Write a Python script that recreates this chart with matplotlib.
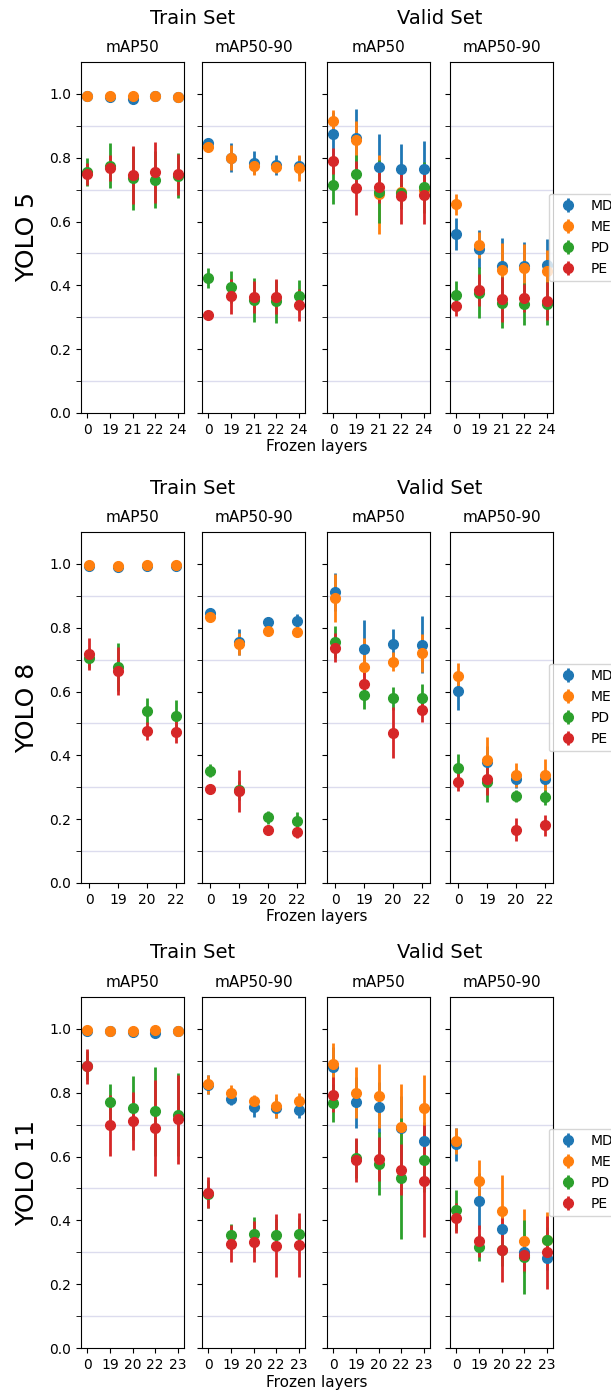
import numpy as np
import matplotlib
matplotlib.use("Agg")
import matplotlib.pyplot as plt
from matplotlib.ticker import MultipleLocator

# series order in every panel: MD, ME, PD, PE
names = ['MD', 'ME', 'PD', 'PE']
colors = ['tab:blue', 'tab:orange', 'tab:green', 'tab:red']

# ---------------- YOLO 5 ----------------
y5_layers = ['0', '19', '21', '22', '24']

y5_tr50 = [[0.993, 0.990, 0.985, 0.993, 0.990],
           [0.995, 0.993, 0.992, 0.995, 0.991],
           [0.755, 0.775, 0.735, 0.731, 0.744],
           [0.750, 0.767, 0.746, 0.754, 0.748]]
y5_tr50_err = [[0.004, 0.005, 0.006, 0.004, 0.004],
               [0.003, 0.004, 0.004, 0.003, 0.004],
               [0.045, 0.070, 0.100, 0.090, 0.070],
               [0.035, 0.040, 0.090, 0.095, 0.065]]

y5_tr90 = [[0.846, 0.800, 0.785, 0.777, 0.775],
           [0.835, 0.800, 0.773, 0.771, 0.767],
           [0.423, 0.395, 0.354, 0.350, 0.366],
           [0.306, 0.366, 0.364, 0.365, 0.339]]
y5_tr90_err = [[0.010, 0.045, 0.035, 0.030, 0.030],
               [0.010, 0.040, 0.027, 0.020, 0.040],
               [0.032, 0.050, 0.070, 0.068, 0.050],
               [0.008, 0.055, 0.050, 0.055, 0.050]]

y5_va50 = [[0.873, 0.862, 0.770, 0.765, 0.765],
           [0.916, 0.856, 0.685, 0.694, 0.700],
           [0.714, 0.749, 0.694, 0.688, 0.707],
           [0.789, 0.704, 0.707, 0.681, 0.683]]
y5_va50_err = [[0.070, 0.090, 0.105, 0.077, 0.087],
               [0.035, 0.060, 0.125, 0.030, 0.030],
               [0.060, 0.060, 0.100, 0.050, 0.080],
               [0.040, 0.085, 0.050, 0.090, 0.090]]

y5_va90 = [[0.562, 0.515, 0.460, 0.460, 0.464],
           [0.654, 0.527, 0.448, 0.454, 0.446],
           [0.369, 0.377, 0.346, 0.342, 0.343],
           [0.335, 0.385, 0.356, 0.360, 0.350]]
y5_va90_err = [[0.050, 0.060, 0.090, 0.075, 0.080],
               [0.033, 0.040, 0.085, 0.075, 0.065],
               [0.045, 0.080, 0.080, 0.065, 0.068],
               [0.030, 0.050, 0.070, 0.045, 0.060]]

# ---------------- YOLO 8 ----------------
y8_layers = ['0', '19', '20', '22']

y8_tr50 = [[0.995, 0.991, 0.995, 0.995],
           [0.996, 0.994, 0.996, 0.996],
           [0.705, 0.676, 0.539, 0.523],
           [0.719, 0.664, 0.476, 0.474]]
y8_tr50_err = [[0.003, 0.004, 0.003, 0.003],
               [0.003, 0.003, 0.003, 0.003],
               [0.030, 0.075, 0.040, 0.050],
               [0.050, 0.076, 0.027, 0.035]]

y8_tr90 = [[0.846, 0.756, 0.819, 0.822],
           [0.833, 0.750, 0.790, 0.787],
           [0.352, 0.290, 0.206, 0.194],
           [0.296, 0.289, 0.167, 0.160]]
y8_tr90_err = [[0.015, 0.040, 0.015, 0.020],
               [0.010, 0.035, 0.010, 0.010],
               [0.020, 0.030, 0.020, 0.030],
               [0.010, 0.065, 0.010, 0.018]]

y8_va50 = [[0.912, 0.733, 0.750, 0.747],
           [0.893, 0.678, 0.693, 0.720],
           [0.755, 0.590, 0.579, 0.579],
           [0.737, 0.625, 0.471, 0.541]]
y8_va50_err = [[0.060, 0.090, 0.045, 0.090],
               [0.075, 0.090, 0.030, 0.060],
               [0.050, 0.045, 0.036, 0.044],
               [0.045, 0.040, 0.080, 0.037]]

y8_va90 = [[0.601, 0.380, 0.327, 0.325],
           [0.649, 0.387, 0.339, 0.339],
           [0.360, 0.315, 0.273, 0.268],
           [0.318, 0.327, 0.167, 0.181]]
y8_va90_err = [[0.058, 0.050, 0.030, 0.030],
               [0.040, 0.070, 0.037, 0.050],
               [0.045, 0.060, 0.020, 0.025],
               [0.030, 0.050, 0.036, 0.033]]

# ---------------- YOLO 11 ----------------
y11_layers = ['0', '19', '20', '22', '23']

y11_tr50 = [[0.995, 0.992, 0.990, 0.987, 0.993],
            [0.996, 0.993, 0.993, 0.996, 0.995],
            [0.885, 0.771, 0.752, 0.742, 0.731],
            [0.883, 0.698, 0.712, 0.690, 0.717]]
y11_tr50_err = [[0.003, 0.004, 0.004, 0.005, 0.003],
                [0.003, 0.003, 0.003, 0.003, 0.003],
                [0.045, 0.055, 0.100, 0.140, 0.130],
                [0.055, 0.095, 0.090, 0.150, 0.140]]

y11_tr90 = [[0.825, 0.781, 0.754, 0.752, 0.746],
            [0.827, 0.800, 0.775, 0.758, 0.775],
            [0.483, 0.354, 0.356, 0.354, 0.356],
            [0.487, 0.327, 0.333, 0.321, 0.324]]
y11_tr90_err = [[0.030, 0.020, 0.030, 0.030, 0.025],
                [0.030, 0.025, 0.018, 0.037, 0.025],
                [0.045, 0.035, 0.055, 0.050, 0.050],
                [0.048, 0.057, 0.065, 0.100, 0.100]]

y11_va50 = [[0.882, 0.770, 0.754, 0.690, 0.649],
            [0.890, 0.800, 0.790, 0.693, 0.752],
            [0.767, 0.594, 0.578, 0.532, 0.590],
            [0.794, 0.589, 0.592, 0.559, 0.523]]
y11_va50_err = [[0.060, 0.080, 0.080, 0.100, 0.060],
                [0.065, 0.080, 0.100, 0.135, 0.105],
                [0.060, 0.060, 0.100, 0.190, 0.100],
                [0.055, 0.068, 0.070, 0.080, 0.175]]

y11_va90 = [[0.638, 0.460, 0.374, 0.302, 0.283],
            [0.648, 0.523, 0.428, 0.335, 0.340],
            [0.431, 0.315, 0.308, 0.285, 0.339],
            [0.407, 0.335, 0.306, 0.291, 0.300]]
y11_va90_err = [[0.053, 0.088, 0.060, 0.040, 0.040],
                [0.040, 0.065, 0.113, 0.100, 0.085],
                [0.065, 0.042, 0.050, 0.117, 0.040],
                [0.048, 0.050, 0.100, 0.050, 0.115]]

rows = [
    ('YOLO 5', y5_layers, [(y5_tr50, y5_tr50_err), (y5_tr90, y5_tr90_err),
                           (y5_va50, y5_va50_err), (y5_va90, y5_va90_err)]),
    ('YOLO 8', y8_layers, [(y8_tr50, y8_tr50_err), (y8_tr90, y8_tr90_err),
                           (y8_va50, y8_va50_err), (y8_va90, y8_va90_err)]),
    ('YOLO 11', y11_layers, [(y11_tr50, y11_tr50_err), (y11_tr90, y11_tr90_err),
                             (y11_va50, y11_va50_err), (y11_va90, y11_va90_err)]),
]
panel_titles = ['mAP50', 'mAP50-90', 'mAP50', 'mAP50-90']

W, H = 611, 1394
fig = plt.figure(figsize=(W / 100, H / 100), dpi=100)
fig.patch.set_facecolor('white')

# pixel layout of the panels
ax_left = [81, 202, 327, 450]
ax_w = 103
ax_top = [62, 532, 997]
ax_h = 351

for r, (model, layers, panels) in enumerate(rows):
    axes = []
    for c in range(4):
        l = ax_left[c] / W
        b = 1 - (ax_top[r] + ax_h) / H
        ax = fig.add_axes([l, b, ax_w / W, ax_h / H])
        axes.append(ax)
        vals, errs = panels[c]
        x = np.arange(len(layers))
        for k in range(4):
            ax.errorbar(x, vals[k], yerr=errs[k], fmt='o', color=colors[k],
                        markersize=7, elinewidth=2, label=names[k])
        ax.set_ylim(0, 1.1)
        ax.set_xlim(-0.28, len(layers) - 1 + 0.28)
        ax.set_xticks(x)
        ax.set_xticklabels(layers)
        ax.yaxis.set_major_locator(MultipleLocator(0.2))
        ax.set_yticks(np.arange(0.1, 1.0, 0.2), minor=True)
        ax.tick_params(axis='y', which='minor', length=3.5)
        ax.grid(axis='y', which='minor', color='#dcdcee', linewidth=1)
        ax.set_axisbelow(True)
        ax.set_title(panel_titles[c], fontsize=11, pad=7)
        if c > 0:
            ax.tick_params(axis='y', labelleft=False)
    # legend sits half outside the figure, as in the original
    axes[3].legend(loc='center left', bbox_to_anchor=(0.89, 0.5), fontsize=10,
                   handletextpad=0.6)

    top_px = ax_top[r]
    fig.text(193 / W, 1 - (top_px - 44) / H, 'Train Set', ha='center', va='center', fontsize=14)
    fig.text(440 / W, 1 - (top_px - 44) / H, 'Valid Set', ha='center', va='center', fontsize=14)
    fig.text(317 / W, 1 - (top_px + ax_h + 34) / H, 'Frozen layers', ha='center', va='center', fontsize=11)
    fig.text(27 / W, 1 - (top_px + ax_h / 2) / H, model, ha='center', va='center',
             rotation=90, fontsize=18)

plt.savefig('out.png', dpi=100)
